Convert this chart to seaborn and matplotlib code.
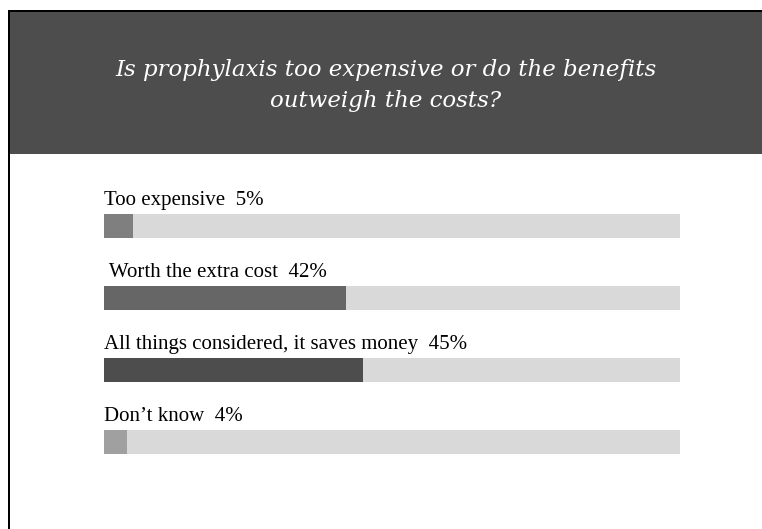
import matplotlib
matplotlib.use("Agg")
import matplotlib.pyplot as plt
from matplotlib.patches import Rectangle
import seaborn as sns
import pandas as pd

# Survey answers and their shares (percent)
answers = ["Too expensive", " Worth the extra cost", "All things considered, it saves money", "Don\u2019t know"]
shares = [5, 42, 45, 4]
bar_colors = ["#7f7f7f", "#666666", "#4d4d4d", "#a0a0a0"]
title_lines = ["Is prophylaxis too expensive or do the benefits", "outweigh the costs?"]

W, H = 762, 529
sns.set_theme(style="white")
plt.rcParams["font.family"] = ["Liberation Serif", "DejaVu Serif"]

fig = plt.figure(figsize=(W / 100, H / 100), dpi=100)
fig.patch.set_facecolor("white")

# Header band with black frame on top and left
fig.patches.append(Rectangle((10 / W, 1 - 154 / H), 1 - 10 / W, 142 / H,
                             transform=fig.transFigure, facecolor="#4d4d4d",
                             edgecolor="none", zorder=0))
fig.patches.append(Rectangle((8 / W, 1 - 12 / H), 1 - 8 / W, 2 / H,
                             transform=fig.transFigure, facecolor="black",
                             edgecolor="none", zorder=1))
fig.patches.append(Rectangle((8 / W, 0), 2 / W, 1 - 10 / H,
                             transform=fig.transFigure, facecolor="black",
                             edgecolor="none", zorder=1))
for line, base in zip(title_lines, [76, 107]):
    fig.text(386 / W, 1 - base / H, line, ha="center", va="baseline",
             color="white", fontsize=16.5, style="italic", family="DejaVu Serif")

ax = fig.add_axes([104 / W, 1 - 478 / H, 576 / W, 288 / H])
df = pd.DataFrame({"answer": answers, "share": shares, "full": [100] * len(answers)})

sns.barplot(data=df, x="full", y="answer", color="#d9d9d9", width=1 / 3,
            ax=ax, orient="h", saturation=1, linewidth=0)
sns.barplot(data=df, x="share", y="answer", hue="answer", palette=bar_colors,
            width=1 / 3, ax=ax, orient="h", saturation=1, legend=False,
            dodge=False, linewidth=0)

for i, (a, s) in enumerate(zip(answers, shares)):
    ax.text(0, i - 1 / 6 - 0.125, f"{a}  {s}%", ha="left", va="baseline",
            fontsize=15, color="black")

ax.set_xlim(0, 100)
ax.set_ylim(3.5, -0.5)
ax.set_axis_off()

fig.savefig("out.png", dpi=100, facecolor="white")
